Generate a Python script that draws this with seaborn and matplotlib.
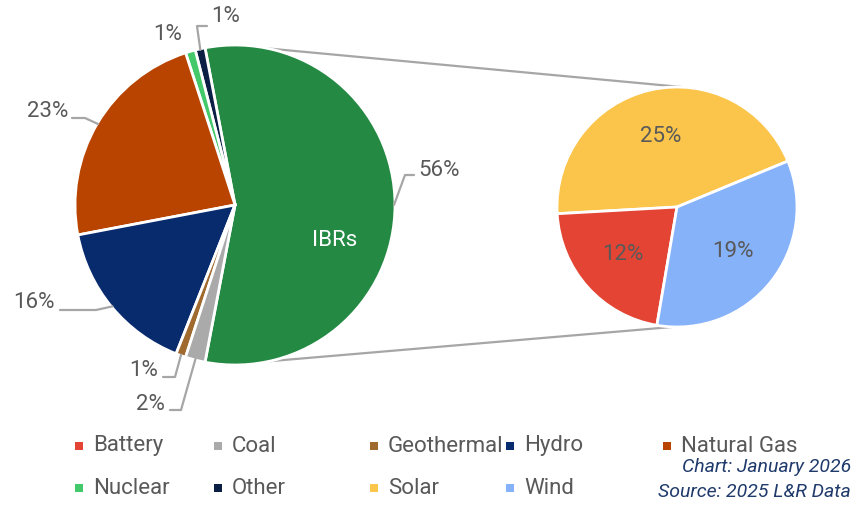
import matplotlib
matplotlib.use("Agg")
import matplotlib.pyplot as plt
import seaborn as sns
import numpy as np

# ---------------- data ----------------
main_labels = ["IBRs", "Other", "Nuclear", "Natural Gas", "Hydro", "Geothermal", "Coal"]
main_values = [56, 1, 1, 23, 16, 1, 2]
ibr_labels = ["Solar", "Battery", "Wind"]
ibr_values = [25, 12, 19]
legend_labels = ["Battery", "Coal", "Geothermal", "Hydro", "Natural Gas",
                 "Nuclear", "Other", "Solar", "Wind"]
footer_lines = ["Chart: January 2026", "Source: 2025 L&R Data"]

# ---------------- style ----------------
sns.set_theme(style="white")
plt.rcParams["font.family"] = ["Roboto", "DejaVu Sans"]

color_map = {
    "IBRs": "#248A43", "Other": "#0B1F45", "Nuclear": "#43C96A",
    "Natural Gas": "#B84400", "Hydro": "#082B6E", "Geothermal": "#A0692E",
    "Coal": "#AAAAAA", "Solar": "#FBC54B", "Battery": "#E44433", "Wind": "#86B2FA",
}
TXT = "#595959"
LINE = "#A6A6A6"

W, H = 867, 509
fig = plt.figure(figsize=(W / 100, H / 100), dpi=100)
ax = fig.add_axes([0, 0, 1, 1])


def Y(y):
    return H - y


main_c = (235, 205)
main_r = 160
sec_c = (677, 207)
sec_r = 120

main_pal = sns.color_palette([color_map[l] for l in main_labels])
start = -main_values[0] / sum(main_values) * 360 / 2
wedges, _ = ax.pie(main_values, colors=main_pal, startangle=start, counterclock=True,
                   center=(main_c[0], Y(main_c[1])), radius=main_r, frame=True,
                   wedgeprops=dict(edgecolor="white", linewidth=2))

ibr_total = sum(ibr_values)
sec_pal = sns.color_palette([color_map[l] for l in ibr_labels])
w2, _, autot = ax.pie(ibr_values, colors=sec_pal, startangle=22.5, counterclock=True,
                      center=(sec_c[0], Y(sec_c[1])), radius=sec_r, frame=True,
                      autopct=lambda p: f"{p * ibr_total / 100:.0f}%", pctdistance=0.6,
                      textprops=dict(color=TXT, fontsize=16),
                      wedgeprops=dict(edgecolor="white", linewidth=2))


def on_circle(c, r, ang):
    a = np.deg2rad(ang)
    return (c[0] + r * np.cos(a), Y(c[1]) + r * np.sin(a))


# connector lines
for am, asec in [(78, 87), (-77.5, -92)]:
    p1 = on_circle(main_c, main_r, am)
    p2 = on_circle(sec_c, sec_r, asec)
    ax.plot([p1[0], p2[0]], [p1[1], p2[1]], color=LINE, lw=1.6, zorder=0,
            solid_capstyle="round")

# labels of main pie
label_style = {
    "IBRs": dict(txt=(418, 170), ha="left", path=[(405, 175), (414, 175)]),
    "Other": dict(txt=(211, 16), ha="left", path=[(197, 26), (207, 26)]),
    "Nuclear": dict(txt=(182, 34), ha="right", path=None),
    "Natural Gas": dict(txt=(68, 111), ha="right", path=[(85, 118), (72, 118)]),
    "Hydro": dict(txt=(55, 302), ha="right", path=[(96, 310), (60, 310)]),
    "Geothermal": dict(txt=(158, 370), ha="right", path=[(175, 377), (163, 377)]),
    "Coal": dict(txt=(165, 405), ha="right", path=[(181, 410), (170, 410)]),
}
for w, lab, val in zip(wedges, main_labels, main_values):
    st = label_style[lab]
    mid = (w.theta1 + w.theta2) / 2
    if st["path"] is not None:
        p0 = on_circle(main_c, main_r - 1, mid)
        xs = [p0[0]] + [p[0] for p in st["path"]]
        ys = [p0[1]] + [Y(p[1]) for p in st["path"]]
        ax.plot(xs, ys, color=LINE, lw=1.6, zorder=3)
    ax.text(st["txt"][0], Y(st["txt"][1]), f"{val}%", ha=st["ha"], va="center",
            color=TXT, fontsize=16)

# IBRs label inside
ax.text(335, Y(240), "IBRs", color="white", fontsize=16, ha="center", va="center")

# legend (manual grid)
leg_x = [79, 218, 374, 510, 667]
leg_y = [446, 488]
for i, lab in enumerate(legend_labels):
    x = leg_x[i % 5]
    y = leg_y[i // 5]
    ax.scatter([x], [Y(y)], marker="s", s=36, color=color_map[lab], linewidths=0)
    ax.text(x + 14, Y(y), lab, color=TXT, fontsize=16, ha="left", va="center")

# footer
for i, t in enumerate(footer_lines):
    ax.text(851, Y(467 + 25 * i), t, color="#1F3A6B", fontsize=14, style="italic",
            ha="right", va="center")

ax.set_xlim(0, W)
ax.set_ylim(0, H)
ax.set_aspect("equal")
ax.axis("off")
fig.savefig("out.png", dpi=100, facecolor="white")
